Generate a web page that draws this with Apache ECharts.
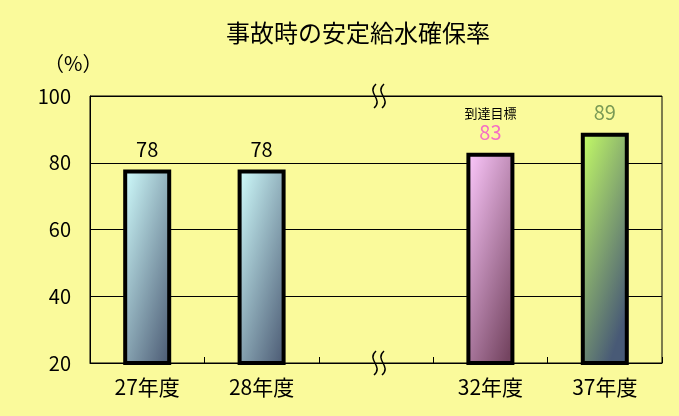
<!DOCTYPE html>
<html>
<head>
<meta charset="utf-8">
<script src="https://cdn.jsdelivr.net/npm/echarts@6/dist/echarts.min.js"></script>
<style>
  html, body { margin: 0; padding: 0; background: #FAFA9B; }
  #chart { width: 679px; height: 416px; }
</style>
</head>
<body>
<div id="chart"></div>
<script>
// データ
var categories = ['27年度', '28年度', '', '32年度', '37年度'];
var rates = [78, 78, null, 83, 89];
var notes = ['', '', '', '到達目標', ''];
var yMin = 20, yMax = 100, yStep = 20;

// bar colours (top-left -> bottom-right)
var fills = [
  ['#D2FFFF', '#485670'],
  ['#D2FFFF', '#485670'],
  null,
  ['#FFCAFF', '#744460'],
  ['#C6FF66', '#485A76']
];
var labelColors = ['#000', '#000', null, '#F56FC4', '#7A9A55'];

var font = '"Noto Sans CJK JP", "DejaVu Sans", sans-serif';

var barData = rates.map(function (v, i) {
  if (v == null) return { value: null };
  var item = {
    value: v,
    itemStyle: {
      color: new echarts.graphic.LinearGradient(0, 0, 2, 0.14, [
        { offset: 0, color: fills[i][0] },
        { offset: 1, color: fills[i][1] }
      ])
    },
    label: { color: labelColors[i] }
  };
  if (notes[i]) {
    item.label.formatter = '{n|' + notes[i] + '}\n{v|{c}}';
  }
  return item;
});

var chart = echarts.init(document.getElementById('chart'));
chart.setOption({
  backgroundColor: '#FAFA9B',
  animation: false,
  title: {
    text: '事故時の安定給水確保率',
    left: 221,
    top: 16,
    textStyle: { fontFamily: font, fontSize: 24, fontWeight: 'normal', color: '#000' }
  },
  grid: {
    left: 90, right: 17, top: 96, bottom: 53,
    show: true, borderColor: '#000', borderWidth: 1,
    outerBoundsMode: 'none'
  },
  xAxis: {
    type: 'category',
    data: categories,
    axisLine: { lineStyle: { color: '#000', width: 1 } },
    axisTick: { show: true, inside: true, length: 6, lineStyle: { color: '#000' } },
    axisLabel: { margin: 14, fontFamily: font, fontSize: 21, color: '#000' }
  },
  yAxis: {
    type: 'value',
    min: yMin, max: yMax, interval: yStep,
    axisLine: { show: true, lineStyle: { color: '#000', width: 1 } },
    axisTick: { show: false },
    splitLine: { lineStyle: { color: '#000', width: 1 } },
    axisLabel: { margin: 19, fontFamily: font, fontSize: 20, color: '#000' }
  },
  series: [{
    type: 'bar',
    data: barData,
    barWidth: 48,
    itemStyle: { borderColor: '#000', borderWidth: 4 },
    label: {
      show: true,
      position: 'top',
      distance: 10,
      fontFamily: font,
      fontSize: 20,
      rich: {
        n: { fontFamily: font, fontSize: 13, color: '#000', lineHeight: 19 },
        v: { fontFamily: font, fontSize: 20, color: '#F56FC4', lineHeight: 20 }
      }
    }
  }]
});

// 波線（省略記号）
function wave(cx, cy) {
  var els = [];
  [-4, 4].forEach(function (dx) {
    els.push({
      type: 'bezierCurve',
      shape: {
        x1: cx + dx + 1, y1: cy - 12,
        cpx1: cx + dx - 9, cpy1: cy - 3,
        cpx2: cx + dx + 9, cpy2: cy + 3,
        x2: cx + dx - 1, y2: cy + 12
      },
      style: { stroke: '#000', lineWidth: 1.5, fill: null },
      z: 10
    });
  });
  return els;
}

var breakTop = chart.convertToPixel({ gridIndex: 0 }, [2, yMax]);
var breakBot = chart.convertToPixel({ gridIndex: 0 }, [2, yMin]);
var marks = wave(breakTop[0] + 3, breakTop[1]).concat(wave(breakBot[0] + 3, breakBot[1]));
marks.push({
  type: 'text',
  left: 44,
  top: 53,
  style: { text: '（%）', font: '20px ' + font, fill: '#000' }
});
chart.setOption({ graphic: marks });
</script>
</body>
</html>
